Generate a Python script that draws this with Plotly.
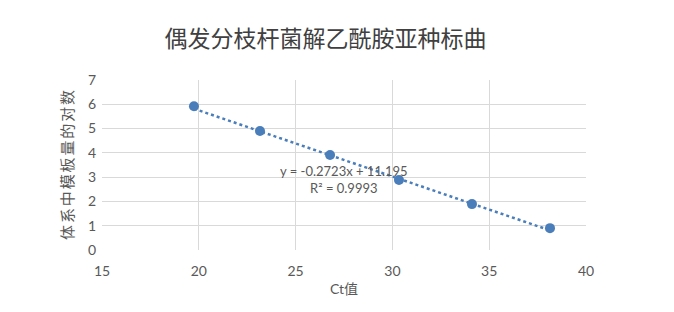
import plotly.graph_objects as go

ct_values = [19.75, 23.16, 26.78, 30.34, 34.11, 38.14]
log_template = [5.92, 4.9, 3.91, 2.88, 1.89, 0.9]
slope = -0.2723
intercept = 11.195
x_ticks = [15, 20, 25, 30, 35, 40]
y_ticks = [0, 1, 2, 3, 4, 5, 6, 7]

title_text = "偶发分枝杆菌解乙酰胺亚种标曲"
x_title = "Ct值"
y_title = "\u2009".join("体系中模板量的对数")
eq_text = "y = -0.2723x + 11.195<br>R² = 0.9993"

color = "#4a7ebb"
grey = "#595959"
font_family = "Lato, 'Noto Sans CJK SC', sans-serif"

trend_x = [min(ct_values), max(ct_values)]
trend_y = [slope * v + intercept for v in trend_x]

fig = go.Figure()
fig.add_trace(go.Scatter(x=trend_x, y=trend_y, mode="lines",
                         line=dict(color=color, width=2.5, dash="dot"),
                         hoverinfo="skip", showlegend=False))
fig.add_trace(go.Scatter(x=ct_values, y=log_template, mode="markers",
                         marker=dict(color=color, size=10),
                         showlegend=False))

fig.add_annotation(x=27.5, y=2.9, xref="x", yref="y", text=eq_text,
                   showarrow=False, align="center",
                   font=dict(family=font_family, size=13, color=grey))

fig.update_layout(
    width=674, height=312,
    margin=dict(l=102, r=88, t=80, b=62),
    paper_bgcolor="white", plot_bgcolor="white",
    title=dict(text=title_text, x=0.483, xanchor="center", y=0.875, yanchor="middle",
               font=dict(family="'Noto Sans CJK SC', sans-serif", size=23, color="#404040")),
    font=dict(family=font_family, color=grey),
)
fig.update_xaxes(range=[15, 40], tickvals=x_ticks, showgrid=True, gridcolor="#d9d9d9",
                 gridwidth=1, zeroline=False, showline=False,
                 ticks="outside", ticklen=8, tickcolor="rgba(0,0,0,0)",
                 tickfont=dict(size=14, color=grey),
                 title=dict(text=x_title, font=dict(size=14, color=grey), standoff=6))
fig.update_yaxes(range=[0, 7], tickvals=y_ticks, showgrid=True, gridcolor="#d9d9d9",
                 gridwidth=1, zeroline=False, showline=False,
                 ticks="outside", ticklen=2, tickcolor="rgba(0,0,0,0)",
                 tickfont=dict(size=14, color=grey),
                 title=dict(text=y_title, font=dict(size=15, color=grey), standoff=10))

fig.write_html("out.html")
